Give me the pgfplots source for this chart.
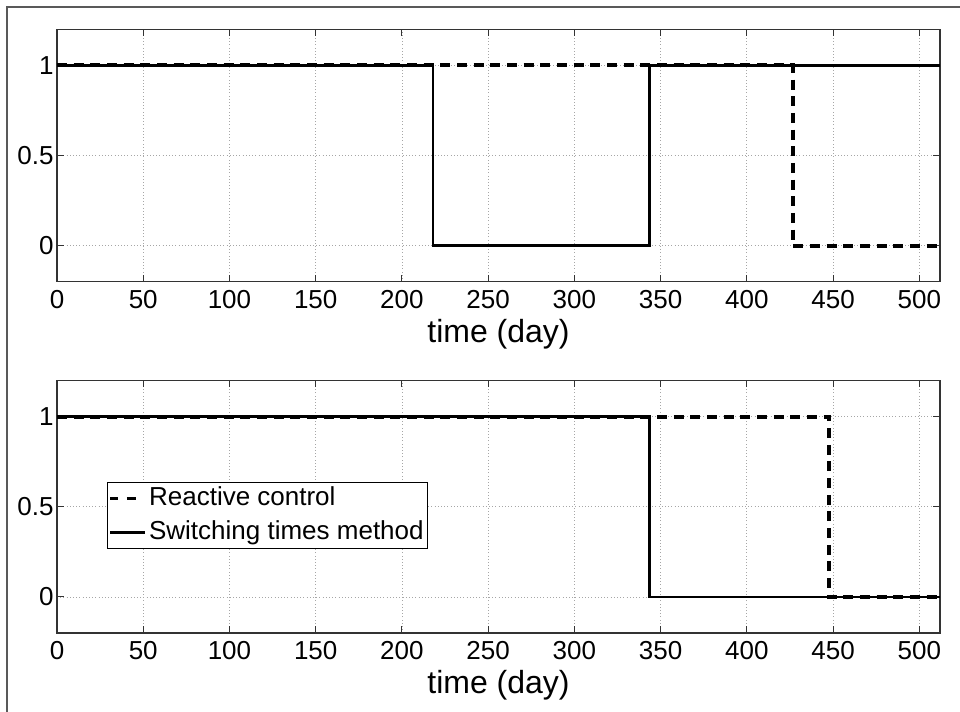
\documentclass[border=0pt]{standalone}
\usepackage{pgfplots}
\pgfplotsset{compat=1.18}
\usepackage{fontspec}
\setmainfont{Liberation Sans}

\pgfplotstableread{
x y
0 1
218 1
218 0
343.6 0
343.6 1
512 1
}\topsolid
\pgfplotstableread{
x y
0 1
426.6 1
426.6 0
512 0
}\topdashed
\pgfplotstableread{
x y
0 1
343.6 1
343.6 0
512 0
}\botsolid
\pgfplotstableread{
x y
0 1
447.5 1
447.5 0
512 0
}\botdashed

\pgfplotsset{
  mystyle/.style={
    scale only axis,
    width=662.25pt, height=189.4pt,
    xmin=0, xmax=512, ymin=-0.2, ymax=1.2,
    xtick={0,50,...,500}, ytick={0,0.5,1},
    tick align=inside,
    major tick length=5pt,
    axis line style={draw=black!80, line width=0.8pt},
    tick style={draw=black!80, line width=0.8pt},
    grid=major,
    major grid style={dotted, draw=black!35, line width=0.6pt},
    /pgf/number format/assume math mode=true,
    tick label style={font=\fontsize{19.5}{21}\selectfont},
    xticklabel style={yshift=-3pt},
    yticklabel style={xshift=1pt},
    xlabel={time (day)},
    xlabel style={font=\fontsize{24}{27}\selectfont, yshift=-1pt},
    solidline/.style={black, line width=2.1pt},
    dashline/.style={black, line width=3pt, dash pattern=on 7.5pt off 5pt},
  }
}

\begin{document}
\begin{tikzpicture}
\useasboundingbox (0,0) rectangle (720pt,533.25pt);
\draw[black!65, line width=1.2pt] (5.25pt,-2pt) -- (5.25pt,528pt) -- (722pt,528pt);

\begin{axis}[mystyle, at={(42.75pt,321.98pt)}, anchor=south west]
\addplot[solidline] table[x=x,y=y] {\topsolid};
\addplot[dashline] table[x=x,y=y] {\topdashed};
\end{axis}

\begin{axis}[mystyle, at={(42.75pt,58.5pt)}, anchor=south west,
  legend cell align=left,
  legend style={at={(0.0566,0.5985)}, anchor=north west,
    draw=black, line width=0.8pt, fill=white,
    font=\fontsize{19.5}{21}\selectfont,
    inner sep=1pt, row sep=3.5pt,
    nodes={inner sep=2pt, text height=14pt, text depth=4pt}},
]
\addplot[solidline, forget plot] table[x=x,y=y] {\botsolid};
\addplot[dashline, forget plot] table[x=x,y=y] {\botdashed};
\addlegendimage{legend image code/.code={\draw[black, line width=2.2pt, dash pattern=on 6pt off 6.5pt on 7pt off 30pt] (0pt,0pt) -- (26pt,0pt);}}
\addlegendentry{Reactive control}
\addlegendimage{legend image code/.code={\draw[black, line width=2.2pt] (0pt,0pt) -- (26pt,0pt);}}
\addlegendentry{Switching times method}
\end{axis}
\end{tikzpicture}
\end{document}
